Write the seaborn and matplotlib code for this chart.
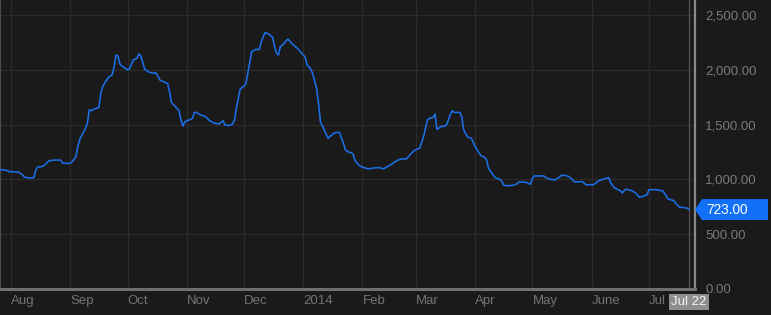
import pandas as pd
import matplotlib
matplotlib.use("Agg")
import matplotlib.pyplot as plt
import matplotlib.dates as mdates
import seaborn as sns
from matplotlib.patches import Polygon, Rectangle
from matplotlib.transforms import IdentityTransform

# ---------------- data ----------------
dates = [
    "2013-07-26", "2013-07-30", "2013-07-31", "2013-08-05", "2013-08-07", "2013-08-08",
    "2013-08-11", "2013-08-13", "2013-08-14", "2013-08-15", "2013-08-18", "2013-08-20",
    "2013-08-21", "2013-08-24", "2013-08-27", "2013-08-28", "2013-08-29", "2013-09-01",
    "2013-09-02", "2013-09-04", "2013-09-05", "2013-09-06", "2013-09-09", "2013-09-10",
    "2013-09-11", "2013-09-12", "2013-09-14", "2013-09-16", "2013-09-17", "2013-09-18",
    "2013-09-20", "2013-09-21", "2013-09-23", "2013-09-24", "2013-09-25", "2013-09-26",
    "2013-09-27", "2013-09-28", "2013-10-01", "2013-10-02", "2013-10-04", "2013-10-06",
    "2013-10-07", "2013-10-08", "2013-10-10", "2013-10-12", "2013-10-14", "2013-10-16",
    "2013-10-18", "2013-10-20", "2013-10-22", "2013-10-23", "2013-10-24", "2013-10-26",
    "2013-10-28", "2013-10-29", "2013-10-30", "2013-10-31", "2013-11-02", "2013-11-04",
    "2013-11-05", "2013-11-06", "2013-11-08", "2013-11-11", "2013-11-13", "2013-11-15",
    "2013-11-18", "2013-11-20", "2013-11-21", "2013-11-23", "2013-11-25", "2013-11-26",
    "2013-11-27", "2013-11-29", "2013-12-01", "2013-12-02", "2013-12-03", "2013-12-05",
    "2013-12-07", "2013-12-09", "2013-12-10", "2013-12-12", "2013-12-14", "2013-12-16",
    "2013-12-17", "2013-12-18", "2013-12-19", "2013-12-20", "2013-12-22", "2013-12-23",
    "2013-12-24", "2013-12-26", "2013-12-29", "2014-01-01", "2014-01-02", "2014-01-03",
    "2014-01-05", "2014-01-06", "2014-01-08", "2014-01-09", "2014-01-10", "2014-01-12",
    "2014-01-14", "2014-01-15", "2014-01-17", "2014-01-19", "2014-01-20", "2014-01-22",
    "2014-01-23", "2014-01-25", "2014-01-26", "2014-01-27", "2014-01-28", "2014-01-30",
    "2014-02-01", "2014-02-04", "2014-02-08", "2014-02-10", "2014-02-12", "2014-02-14",
    "2014-02-16", "2014-02-19", "2014-02-21", "2014-02-24", "2014-02-26", "2014-02-28",
    "2014-03-01", "2014-03-03", "2014-03-05", "2014-03-07", "2014-03-08", "2014-03-10",
    "2014-03-11", "2014-03-12", "2014-03-14", "2014-03-16", "2014-03-17", "2014-03-19",
    "2014-03-20", "2014-03-21", "2014-03-24", "2014-03-25", "2014-03-26", "2014-03-28",
    "2014-03-30", "2014-04-01", "2014-04-03", "2014-04-04", "2014-04-06", "2014-04-07",
    "2014-04-08", "2014-04-11", "2014-04-12", "2014-04-14", "2014-04-15", "2014-04-16",
    "2014-04-18", "2014-04-21", "2014-04-23", "2014-04-24", "2014-04-26", "2014-04-28",
    "2014-04-29", "2014-04-30", "2014-05-01", "2014-05-02", "2014-05-05", "2014-05-07",
    "2014-05-08", "2014-05-10", "2014-05-13", "2014-05-15", "2014-05-16", "2014-05-18",
    "2014-05-20", "2014-05-22", "2014-05-23", "2014-05-24", "2014-05-27", "2014-05-29",
    "2014-06-02", "2014-06-05", "2014-06-08", "2014-06-10", "2014-06-11", "2014-06-13",
    "2014-06-16", "2014-06-17", "2014-06-18", "2014-06-19", "2014-06-22", "2014-06-24",
    "2014-06-26", "2014-06-28", "2014-06-30", "2014-07-01", "2014-07-04", "2014-07-08",
    "2014-07-09", "2014-07-11", "2014-07-14", "2014-07-15", "2014-07-17", "2014-07-20",
    "2014-07-21", "2014-07-22",
]
values = [
    1090, 1080, 1070, 1065, 1040, 1020,
    1010, 1015, 1085, 1110, 1120, 1155,
    1170, 1175, 1175, 1150, 1145, 1145,
    1160, 1205, 1300, 1365, 1465, 1510,
    1635, 1625, 1645, 1655, 1785, 1845,
    1905, 1930, 1955, 2030, 2135, 2125,
    2055, 2035, 2000, 2005, 2090, 2105,
    2145, 2125, 2005, 1980, 1970, 1970,
    1905, 1890, 1875, 1800, 1700, 1665,
    1625, 1540, 1485, 1525, 1540, 1555,
    1610, 1610, 1590, 1570, 1535, 1515,
    1505, 1535, 1495, 1490, 1505, 1540,
    1650, 1825, 1850, 1875, 1970, 2165,
    2185, 2185, 2255, 2340, 2325, 2295,
    2210, 2150, 2135, 2210, 2240, 2265,
    2280, 2240, 2195, 2135, 2115, 2045,
    2005, 1960, 1830, 1695, 1525, 1450,
    1375, 1390, 1420, 1430, 1425, 1330,
    1270, 1245, 1245, 1230, 1175, 1130,
    1110, 1095, 1105, 1105, 1095, 1115,
    1135, 1170, 1185, 1185, 1225, 1260,
    1270, 1285, 1390, 1540, 1555, 1565,
    1595, 1455, 1480, 1485, 1495, 1590,
    1625, 1610, 1610, 1570, 1450, 1385,
    1375, 1300, 1240, 1215, 1200, 1175,
    1100, 1025, 1010, 1000, 980, 945,
    940, 945, 960, 975, 975, 970,
    960, 955, 1010, 1030, 1030, 1030,
    1015, 1000, 995, 1020, 1035, 1035,
    1025, 995, 975, 975, 980, 950,
    950, 990, 1005, 1015, 965, 920,
    895, 875, 895, 910, 895, 875,
    835, 845, 860, 905, 905, 895,
    875, 820, 805, 780, 745, 740,
    735, 723,
]
month_ticks = ["2013-08-01", "2013-09-01", "2013-10-01", "2013-11-01", "2013-12-01",
               "2014-01-01", "2014-02-01", "2014-03-01", "2014-04-01", "2014-05-01",
               "2014-06-01", "2014-07-01"]
month_labels = ["Aug", "Sep", "Oct", "Nov", "Dec", "2014", "Feb", "Mar", "Apr", "May",
                "June", "Jul"]
y_ticks = [0, 500, 1000, 1500, 2000, 2500]
last_date_label = "Jul 22"

# ---------------- style ----------------
sns.set_theme(style="dark")
plt.rcParams["font.family"] = ["Liberation Sans", "DejaVu Sans"]

BG = "#1a1a1a"
GRID = "#2b2b2b"
LINE = "#1a6fe8"
TXT = "#7a7a7a"
W, H = 771, 315

fig = plt.figure(figsize=(W / 100, H / 100), dpi=100, facecolor=BG)
ax = fig.add_axes([0, 26.25 / H, 695 / W, 288.75 / H])
ax.set_facecolor(BG)

df = pd.DataFrame({"date": pd.to_datetime(dates), "value": values})
sns.lineplot(data=df, x="date", y="value", ax=ax, color=LINE, linewidth=1.15, zorder=3)

ax.set_xlim(pd.Timestamp("2013-07-26 06:00"), pd.Timestamp("2014-07-25 02:00"))
ax.set_ylim(0, 2637)

ax.set_axisbelow(True)
ax.grid(True, color=GRID, linewidth=0.9)

ax.set_xticks(pd.to_datetime(month_ticks))
ax.set_xticklabels(month_labels, ha="left")
ax.tick_params(axis="x", length=0, pad=4.2, labelsize=9.5, labelcolor="#747474")

ax.yaxis.tick_right()
ax.set_yticks(y_ticks)
ax.set_yticklabels([f"{v:,.2f}" for v in y_ticks])
ax.tick_params(axis="y", length=0, pad=7.5, labelsize=9.5, labelcolor=TXT)

ax.set_xlabel("")
ax.set_ylabel("")

ax.spines["top"].set_visible(False)
ax.spines["left"].set_color("#4a4a4a")
ax.spines["left"].set_linewidth(1.5)
ax.spines["right"].set_color("#8a8a8a")
ax.spines["right"].set_linewidth(1.6)
ax.spines["bottom"].set_color("#6f6f6f")
ax.spines["bottom"].set_linewidth(2.2)

last_date = pd.Timestamp(dates[-1])
last_val = values[-1]
ax.axvline(last_date, color="#5a5a5a", linewidth=0.8, zorder=2)

# price tag on right
xr = ax.transAxes.transform((1, 0))[0]
_, py = ax.transData.transform((mdates.date2num(last_date), last_val))
hh = 10.5
verts = [(xr, py), (xr + 7, py + hh), (768, py + hh), (768, py - hh), (xr + 7, py - hh)]
fig.add_artist(Polygon(verts, closed=True, transform=IdentityTransform(),
                       facecolor="#1170f5", edgecolor="none"))
fig.text(706 / W, py / H, f"{last_val:,.2f}", color="white", fontsize=9.8,
         ha="left", va="center")

# date tag at bottom
xc, _ = ax.transData.transform((mdates.date2num(last_date), 0))
fig.add_artist(Rectangle((xc - 20, 5), 40, 16, transform=IdentityTransform(),
                         facecolor="#8e8e8e", edgecolor="none"))
fig.text(xc / W, 13 / H, last_date_label, color="#f4f4f4", fontsize=9.5,
         ha="center", va="center")

fig.savefig("out.png", dpi=100, facecolor=BG)
